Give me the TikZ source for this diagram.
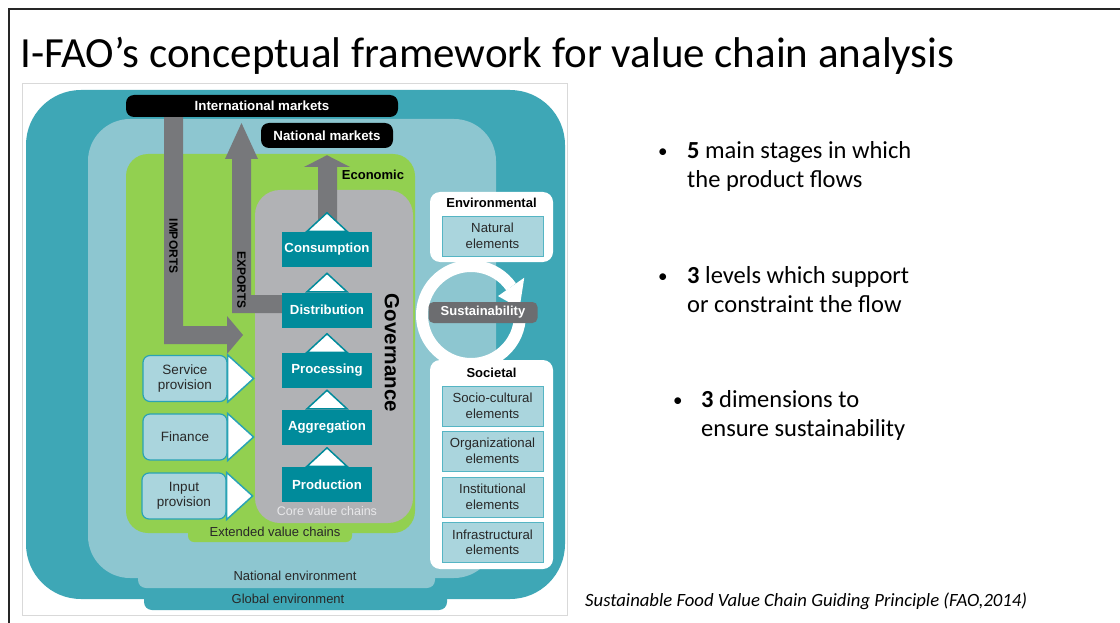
\documentclass[tikz,border=0pt]{standalone}
\usepackage{fontspec}
\usetikzlibrary{calc}
\setmainfont{Carlito}
\newfontfamily\dfont{Liberation Sans}

\definecolor{globalc}{RGB}{62,167,182}
\definecolor{natc}{RGB}{141,198,208}
\definecolor{greenc}{RGB}{146,208,80}
\definecolor{corec}{RGB}{177,178,181}
\definecolor{arrowc}{RGB}{119,120,123}
\definecolor{stagec}{RGB}{0,139,155}
\definecolor{lightbox}{RGB}{170,213,221}
\definecolor{boxedge}{RGB}{42,163,181}
\definecolor{sustc}{RGB}{108,109,112}
\definecolor{framegray}{RGB}{217,217,217}
\definecolor{textdark}{RGB}{40,40,40}
\definecolor{corelabel}{RGB}{232,232,234}

\tikzset{
  dlabel/.style={font=\dfont\fontsize{13}{15}\selectfont, text=textdark, inner sep=0pt},
  dbold/.style={font=\dfont\bfseries\fontsize{13}{15}\selectfont, text=black, inner sep=0pt},
  market/.style={fill=black, rounded corners=8pt, text=white,
    font=\dfont\bfseries\fontsize{13.3}{15}\selectfont, inner sep=0pt},
  stagebox/.style={fill=stagec, text=white, font=\dfont\bfseries\fontsize{13.2}{15}\selectfont,
    minimum width=90pt, minimum height=35pt, inner sep=0pt},
  stagetri/.style={fill=white, draw=stagec, line width=1.5pt, line join=miter},
  sidebox/.style={fill=lightbox, draw=boxedge, line width=1.2pt, rounded corners=7pt,
    minimum width=84pt, minimum height=46pt, inner sep=0pt, align=center,
    font=\dfont\fontsize{13.5}{15.5}\selectfont, text=textdark},
  sidetri/.style={fill=white, draw=boxedge, line width=1.5pt, line join=miter},
  dimbox/.style={fill=white, rounded corners=10pt},
  elembox/.style={fill=lightbox, draw=boxedge!80, line width=0.9pt, minimum width=101pt,
    minimum height=40pt, inner sep=0pt, align=center,
    font=\dfont\fontsize{13.2}{15.5}\selectfont, text=textdark},
  flowarrow/.style={fill=arrowc},
  slidetext/.style={font=\fontsize{24.5}{29}\selectfont, anchor=base west, inner sep=0pt},
  bulletdot/.style={font=\fontsize{19}{29}\selectfont, anchor=base west, inner sep=0pt},
}

\begin{document}
\begin{tikzpicture}[x=1pt,y=-1pt]
\useasboundingbox (0,0) rectangle (1120,623);
\fill[white] (0,0) rectangle (1120,623);

% slide frame
\draw[line width=2pt, black!85] (9,623) -- (9,9.5) -- (1120,9.5);

% title
\node[anchor=base west, inner sep=0pt, font=\fontsize{43}{50}\selectfont] (title) at (20,68)
  {I-FAO’s conceptual framework for value chain analysis};

% picture frame
\draw[framegray, line width=1pt] (22.5,83.5) rectangle (567.5,615.5);

% global environment
\fill[globalc, rounded corners=55pt] (26,90) -- (565,90) -- (565,599) -- (26,599) -- cycle;
\fill[globalc, rounded corners=8pt] (144,570) -- (447,570) -- (447,610) -- (144,610) -- cycle;

% national environment
\fill[natc, rounded corners=42pt] (88,119) -- (496,119) -- (496,578) -- (88,578) -- cycle;
\fill[natc, rounded corners=8pt] (138,560) -- (435,560) -- (435,588) -- (138,588) -- cycle;

% extended value chains (economic)
\fill[greenc, rounded corners=22pt] (126,154) -- (415,154) -- (415,533) -- (126,533) -- cycle;
\fill[greenc, rounded corners=6pt] (188,520) -- (352,520) -- (352,542) -- (188,542) -- cycle;

% core value chains
\fill[corec, rounded corners=25pt] (255,190) -- (413,190) -- (413,523) -- (255,523) -- cycle;

% markets
\node[market, minimum width=272pt, minimum height=22pt] (intl) at (262,106) {International markets};
\node[market, minimum width=132pt, minimum height=25pt] (natm) at (327,135.5) {National markets};

% sustainability cycle
\begin{scope}[shift={(471,315)}, y=1pt]
  \draw[white, line width=12pt] (35:49) arc[start angle=35, end angle=355, radius=49];
  \fill[white] (35:33) -- (35:65) -- (8:49) -- cycle;
\end{scope}
\node[fill=sustc, rounded corners=5pt, minimum width=109pt, minimum height=21pt, inner sep=0pt,
  text=white, font=\dfont\bfseries\fontsize{13}{15}\selectfont] (sust) at (483,312.5) {Sustainability};

% stages of the core chain
\node[stagebox] (cons) at (327,249.5) {Consumption};
\node[stagebox] (dist) at (327,310) {Distribution};
\node[stagebox] (proc) at (327,370.5) {Processing};
\node[stagebox] (aggr) at (327,427) {Aggregation};
\node[stagebox] (prod) at (327,484.5) {Production};

% imports: from international markets into the chain
\fill[flowarrow] ($(intl.south)+(-98,0)$) -- ($(intl.south)+(-79,0)$) -- (183,326) -- (227,326)
  -- (227,316) -- (243,335) -- (227,354) -- (227,344) -- (164,344) -- cycle;
% exports: from distribution to international markets
\fill[flowarrow] (dist.west |- 0,295) -- (251,295) -- (251,159) -- (258,159) -- (241.5,123)
  -- (225,159) -- (232,159) -- (232,313) -- (dist.west |- 0,313) -- cycle;
% consumption to national markets
\fill[flowarrow] (318,222) -- (318,167) -- (304,167) -- ($(natm.south)+(0,7)$) -- (350,167)
  -- (337,167) -- (337,222) -- cycle;

% redraw stage boxes above the arrows
\node[stagebox] at (cons) {Consumption};
\node[stagebox] at (dist) {Distribution};

% upward triangles on the stages
\foreach \n in {cons,dist,proc,aggr,prod}{
  \filldraw[stagetri] ($(\n.north)+(-20,-0.5)$) -- ($(\n.north)+(0,-19)$) -- ($(\n.north)+(20,-0.5)$) -- cycle;
}

\node[rotate=-90, font=\dfont\bfseries\fontsize{12}{14}\selectfont, inner sep=0pt] (imp) at (173.5,246) {IMPORTS};
\node[rotate=-90, font=\dfont\bfseries\fontsize{12}{14}\selectfont, inner sep=0pt] (exp) at (241.5,280) {EXPORTS};

\node[rotate=-90, font=\dfont\bfseries\fontsize{20.5}{24}\selectfont, inner sep=0pt] (gov) at (392,353) {Governance};
\node[dbold] (econ) at (373,175) {Economic};
\node[dlabel, text=corelabel, font=\dfont\fontsize{12.5}{15}\selectfont] (corel) at (327,511) {Core value chains};
\node[dlabel] (extl) at (275,532) {Extended value chains};
\node[dlabel] (natl) at (295,576) {National environment};
\node[dlabel] (glol) at (288,598.5) {Global environment};

% support services
\node[sidebox] (svc) at (185,378.5) {Service\\provision};
\node[sidebox] (fin) at (185,437) {Finance};
\node[sidebox] (inp) at (184,496) {Input\\provision};
\foreach \n in {svc,fin,inp}{
  \filldraw[sidetri] (\n.north east) -- ($(\n.east)+(26,0)$) -- (\n.south east) -- cycle;
}

% environmental dimension
\fill[dimbox] (430,192) rectangle (553,262);
\node[dbold] (envt) at (491.5,203) {Environmental};
\node[elembox] (natel) at (492.5,236) {Natural\\elements};

% societal dimension
\fill[dimbox] (430,360) rectangle (553,569);
\node[dbold] (soct) at (491.5,372.5) {Societal};
\node[elembox] (socc) at (492.5,406) {Socio-cultural\\elements};
\node[elembox] (orgl) at (492.5,451) {Organizational\\elements};
\node[elembox] (inst) at (492.5,497) {Institutional\\elements};
\node[elembox] (infr) at (492.5,542.5) {Infrastructural\\elements};

% bullet points
\node[bulletdot] (b1d) at (658,158) {•};
\node[slidetext] (b1a) at (687,159) {\textbf{5} main stages in which};
\node[slidetext] (b1b) at (687,188) {the product flows};
\node[bulletdot] (b2d) at (658,282) {•};
\node[slidetext] (b2a) at (687,283) {\textbf{3} levels which support};
\node[slidetext] (b2b) at (687,312) {or constraint the flow};
\node[bulletdot] (b3d) at (673,406) {•};
\node[slidetext] (b3a) at (701,407) {\textbf{3} dimensions to};
\node[slidetext] (b3b) at (701,436) {ensure sustainability};

% source
\node[anchor=base west, inner sep=0pt, font=\itshape\fontsize{18.7}{22}\selectfont] (src) at (585,606)
  {Sustainable Food Value Chain Guiding Principle (FAO,2014)};
\end{tikzpicture}
\end{document}
